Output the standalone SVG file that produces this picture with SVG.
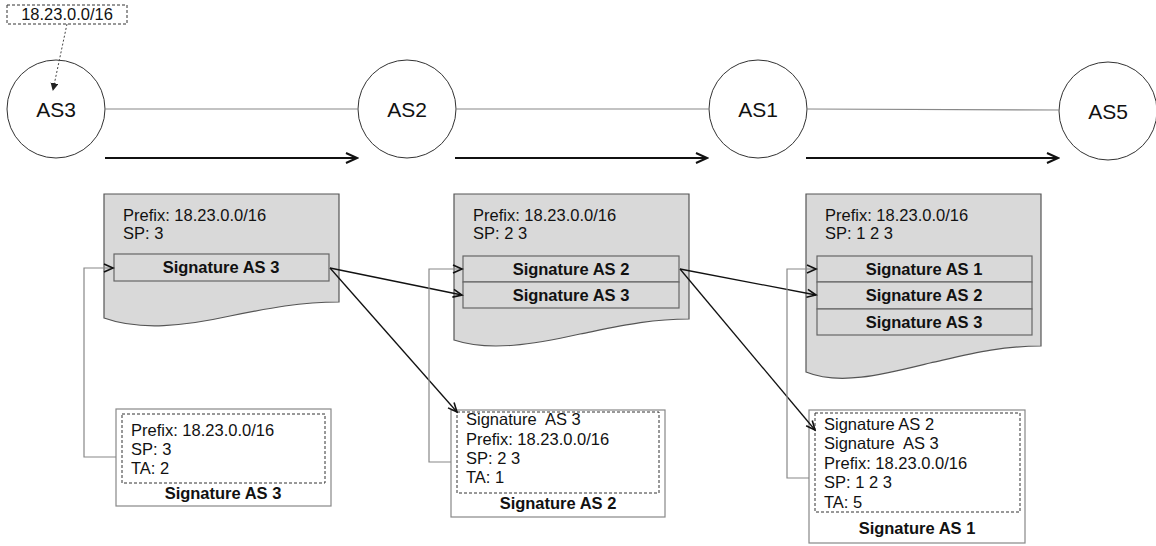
<svg xmlns="http://www.w3.org/2000/svg" width="1156" height="546" viewBox="0 0 1156 546">
<style>
text{font-family:"Liberation Sans",Arial,sans-serif;fill:#111}
.t{font-size:16.5px}
.b{font-size:16.5px;font-weight:bold;text-anchor:middle}
.as{font-size:21px;text-anchor:middle}
.circ{fill:#fff;stroke:#333;stroke-width:1}
.doc{fill:#d9d9d9;stroke:#555;stroke-width:1.2}
.sig{fill:#d9d9d9;stroke:#666;stroke-width:1.2}
.outer{fill:#fff;stroke:#888;stroke-width:1.2}
.dash{fill:none;stroke:#333;stroke-width:1;stroke-dasharray:3,2}
.link{stroke:#888;stroke-width:1.2;fill:none}
.flow{stroke:#111;stroke-width:2;fill:none}
.diag{stroke:#111;stroke-width:1.3;fill:none}
.back{stroke:#888;stroke-width:1.2;fill:none}
</style>
<defs>
<marker id="big" markerUnits="userSpaceOnUse" markerWidth="14" markerHeight="14" refX="12" refY="6" orient="auto">
<path d="M1,1 L12,6 L1,11" fill="none" stroke="#111" stroke-width="2"/>
</marker>
<marker id="sm" markerUnits="userSpaceOnUse" markerWidth="12" markerHeight="12" refX="10" refY="5" orient="auto">
<path d="M1,1 L10,5 L1,9" fill="none" stroke="#111" stroke-width="1.6"/>
</marker>
<marker id="dot" markerUnits="userSpaceOnUse" markerWidth="10" markerHeight="10" refX="7" refY="4" orient="auto">
<path d="M0,0 L8,4 L0,8 Z" fill="#222"/>
</marker>
</defs>

<g id="prefix-box">
<rect class="dash" x="7" y="5" width="120" height="19"/>
<text class="t" x="67" y="20" text-anchor="middle">18.23.0.0/16</text>
</g>

<g id="as3"><circle class="circ" cx="56" cy="109" r="49"/><text class="as" x="56" y="117">AS3</text></g>
<g id="as2"><circle class="circ" cx="407" cy="109" r="49"/><text class="as" x="407" y="117">AS2</text></g>
<g id="as1"><circle class="circ" cx="758" cy="109" r="49"/><text class="as" x="758" y="117">AS1</text></g>
<g id="as5"><circle class="circ" cx="1108" cy="111" r="49"/><text class="as" x="1108" y="119">AS5</text></g>

<g id="doc1">
<path class="doc" d="M104,194 H339 V302 C300,302 270,308 230,316 C185,326 140,331 104,318 Z"/>
<text class="t" x="123" y="221">Prefix: 18.23.0.0/16</text>
<text class="t" x="123" y="239">SP: 3</text>
<rect class="sig" x="114" y="254" width="215" height="27"/>
<text class="b" x="221" y="273">Signature AS 3</text>
</g>

<g id="doc2">
<path class="doc" d="M454,194 H689 V319 C650,319 620,326 580,334 C535,344 490,352 454,340 Z"/>
<text class="t" x="473" y="221">Prefix: 18.23.0.0/16</text>
<text class="t" x="473" y="239">SP: 2 3</text>
<rect class="sig" x="463" y="256" width="216" height="26"/>
<text class="b" x="571" y="275">Signature AS 2</text>
<rect class="sig" x="463" y="282" width="216" height="26"/>
<text class="b" x="571" y="301">Signature AS 3</text>
</g>

<g id="doc3">
<path class="doc" d="M806,194 H1041 V346 C1000,346 970,354 930,363 C885,374 840,386 806,372 Z"/>
<text class="t" x="825" y="221">Prefix: 18.23.0.0/16</text>
<text class="t" x="825" y="239">SP: 1 2 3</text>
<rect class="sig" x="817" y="256" width="215" height="26"/>
<text class="b" x="924" y="275">Signature AS 1</text>
<rect class="sig" x="817" y="282" width="215" height="27"/>
<text class="b" x="924" y="301">Signature AS 2</text>
<rect class="sig" x="817" y="309" width="215" height="26"/>
<text class="b" x="924" y="328">Signature AS 3</text>
</g>

<g id="box1">
<rect class="outer" x="116" y="409" width="215" height="97"/>
<rect class="dash" x="122" y="414" width="203" height="69"/>
<text class="t" x="131" y="436">Prefix: 18.23.0.0/16</text>
<text class="t" x="131" y="455">SP: 3</text>
<text class="t" x="131" y="474">TA: 2</text>
<text class="b" x="223" y="499">Signature AS 3</text>
</g>

<g id="box2">
<rect class="outer" x="451" y="410" width="214" height="107"/>
<rect class="dash" x="457" y="412" width="202" height="81"/>
<text class="t" x="466" y="425" xml:space="preserve">Signature  AS 3</text>
<text class="t" x="466" y="445">Prefix: 18.23.0.0/16</text>
<text class="t" x="466" y="464">SP: 2 3</text>
<text class="t" x="466" y="483">TA: 1</text>
<text class="b" x="558" y="509">Signature AS 2</text>
</g>

<g id="box3">
<rect class="outer" x="809" y="410" width="216" height="133"/>
<rect class="dash" x="815" y="413" width="205" height="99"/>
<text class="t" x="824" y="430">Signature AS 2</text>
<text class="t" x="824" y="449" xml:space="preserve">Signature  AS 3</text>
<text class="t" x="824" y="469">Prefix: 18.23.0.0/16</text>
<text class="t" x="824" y="488">SP: 1 2 3</text>
<text class="t" x="824" y="508">TA: 5</text>
<text class="b" x="917" y="534">Signature AS 1</text>
</g>

<g id="connectors">
<line class="link" x1="105" y1="109" x2="358" y2="109"/>
<line class="link" x1="456" y1="109" x2="709" y2="109"/>
<line class="link" x1="807" y1="109" x2="1059" y2="110"/>
<line class="flow" x1="105" y1="158" x2="357" y2="158" marker-end="url(#big)"/>
<line class="flow" x1="455" y1="158" x2="707" y2="158" marker-end="url(#big)"/>
<line class="flow" x1="806" y1="158" x2="1058" y2="158" marker-end="url(#big)"/>
<line x1="67" y1="24" x2="53" y2="90" stroke="#444" stroke-width="1" stroke-dasharray="2,2" marker-end="url(#dot)"/>
<line class="diag" x1="330" y1="268" x2="462" y2="295" marker-end="url(#sm)"/>
<line class="diag" x1="330" y1="268" x2="457" y2="412" marker-end="url(#sm)"/>
<line class="diag" x1="680" y1="269" x2="816" y2="295" marker-end="url(#sm)"/>
<line class="diag" x1="680" y1="269" x2="815" y2="430" marker-end="url(#sm)"/>
<path class="back" d="M116,457 H84 V268 H113" marker-end="url(#sm)"/>
<path class="back" d="M451,462 H429 V269 H462" marker-end="url(#sm)"/>
<path class="back" d="M809,478 H787 V269 H816" marker-end="url(#sm)"/>
</g>
</svg>
